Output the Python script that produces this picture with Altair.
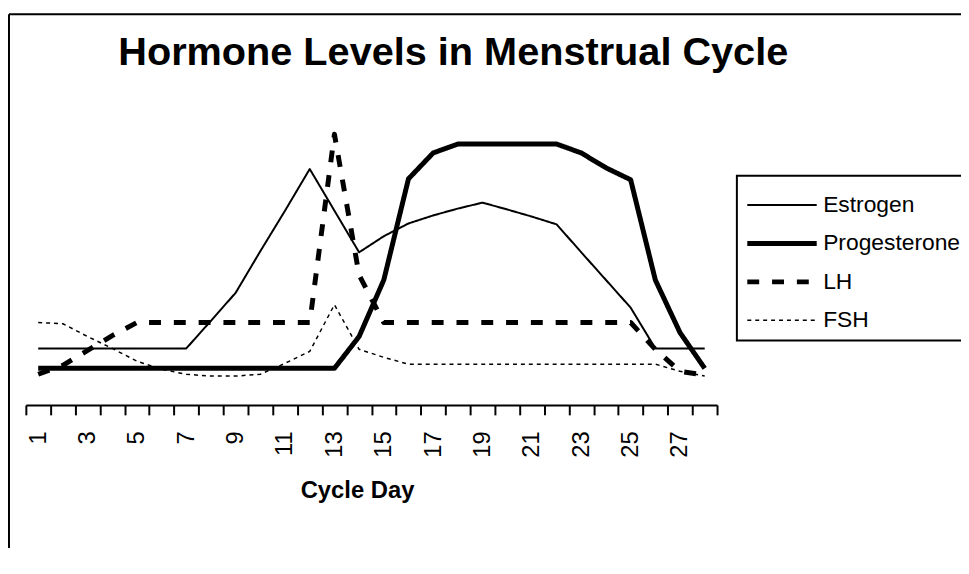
import altair as alt
import pandas as pd

days = list(range(1, 29))
hormones = ["Estrogen", "Progesterone", "LH", "FSH"]

estrogen = [19.0, 19.0, 19.0, 19.0, 19.0, 19.0, 19.0, 28.3, 37.7, 51.7, 65.3, 79.3, 65.3, 51.3,
            56.7, 61.0, 63.7, 66.0, 68.0, 65.7, 63.3, 60.7, 51.3, 42.0, 32.7, 19.0, 19.0, 19.0]
progesterone = [12.3, 12.3, 12.3, 12.3, 12.3, 12.3, 12.3, 12.3, 12.3, 12.3, 12.3, 12.3, 12.3, 23.0,
                42.0, 76.0, 84.7, 87.7, 87.7, 87.7, 87.7, 87.7, 84.7, 79.7, 75.7, 42.0, 24.3, 12.3]
lh = [10.3, 13.3, 18.3, 23.3, 27.7, 27.7, 27.7, 27.7, 27.7, 27.7, 27.7, 27.7, 91.0, 43.7,
      27.7, 27.7, 27.7, 27.7, 27.7, 27.7, 27.7, 27.7, 27.7, 27.7, 27.7, 18.7, 11.3, 10.0]
fsh = [27.7, 27.3, 23.0, 19.0, 14.7, 12.0, 10.3, 9.7, 9.7, 10.3, 14.0, 18.0, 33.7, 18.7,
       16.0, 13.7, 13.7, 13.7, 13.7, 13.7, 13.7, 13.7, 13.7, 13.7, 13.7, 13.7, 11.3, 9.7]

title_text = "Hormone Levels in Menstrual Cycle"
x_title = "Cycle Day"

series = {"Estrogen": estrogen, "Progesterone": progesterone, "LH": lh, "FSH": fsh}
rows = []
for h in hormones:
    for d, v in zip(days, series[h]):
        rows.append({"Day": d, "Level": v, "Hormone": h})
df = pd.DataFrame(rows)

FONT = "Liberation Sans"
tick_vals = [d - 0.5 for d in days] + [days[-1] + 0.5] + days

legend = alt.Legend(
    title=" ", titleFontSize=8, titlePadding=2,
    orient="none", legendX=717, legendY=69,
    symbolType="stroke", symbolSize=4900, symbolStrokeColor="black",
    labelFontSize=23, labelColor="black", labelFont=FONT, labelOffset=4,
    clipHeight=23, rowPadding=14.7, padding=8,
    strokeColor="black", fillColor="white",
)

lines = alt.Chart(df).mark_line(color="black", strokeJoin="round").encode(
    x=alt.X("Day:Q",
            scale=alt.Scale(domain=[0.5, 28.5], nice=False, zero=False),
            axis=alt.Axis(
                values=tick_vals,
                labelExpr="datum.value % 2 === 1 ? '' + datum.value : ''",
                labelAngle=270, labelAlign="right", labelBaseline="middle",
                labelFontSize=24, labelFont=FONT, labelColor="black", labelPadding=16,
                labelOverlap=False, labelFlush=False, labelBound=False,
                tickSize=10, tickWidth=2, tickColor="black",
                tickOpacity={"condition": {"test": "datum.value % 1 === 0", "value": 0}, "value": 1},
                domainColor="black", domainWidth=2, grid=False,
                title=x_title, titleFontSize=24, titleFont=FONT, titleFontWeight="bold",
                titleColor="black", titlePadding=22, titleX=334,
            )),
    y=alt.Y("Level:Q", scale=alt.Scale(domain=[0, 100], nice=False, zero=False), axis=None),
    strokeDash=alt.StrokeDash("Hormone:N",
                              scale=alt.Scale(domain=hormones, range=[[1, 0], [1, 0], [12, 13], [4, 4]]),
                              legend=legend),
    strokeWidth=alt.StrokeWidth("Hormone:N",
                                scale=alt.Scale(type="ordinal", domain=hormones, range=[2, 5, 5, 1.5]),
                                legend=legend),
    order=alt.Order("Day:Q"),
)

one = pd.DataFrame({"k": [0]})
frame_left = alt.Chart(one).mark_rule(color="black", strokeWidth=2).encode(
    x=alt.value(-17), y=alt.value(-94), y2=alt.value(480))
frame_top = alt.Chart(one).mark_rule(color="black", strokeWidth=2).encode(
    x=alt.value(-17), x2=alt.value(1000), y=alt.value(-94))
title = alt.Chart(one).mark_text(fontSize=40, fontWeight="bold", font=FONT, align="center",
                                 baseline="alphabetic", color="black").encode(
    x=alt.value(431), y=alt.value(-43), text=alt.value(title_text))

chart = alt.layer(frame_left, frame_top, title, lines).properties(
    width=697, height=300,
    autosize=alt.AutoSizeParams(type="none"),
    padding={"left": 18, "top": 98, "right": 246, "bottom": 142},
    background="white",
).configure(font=FONT).configure_view(stroke="transparent", strokeWidth=0).configure_legend(strokeWidth=2)

chart.save("out.html", embed_options={"renderer": "svg", "actions": False})
